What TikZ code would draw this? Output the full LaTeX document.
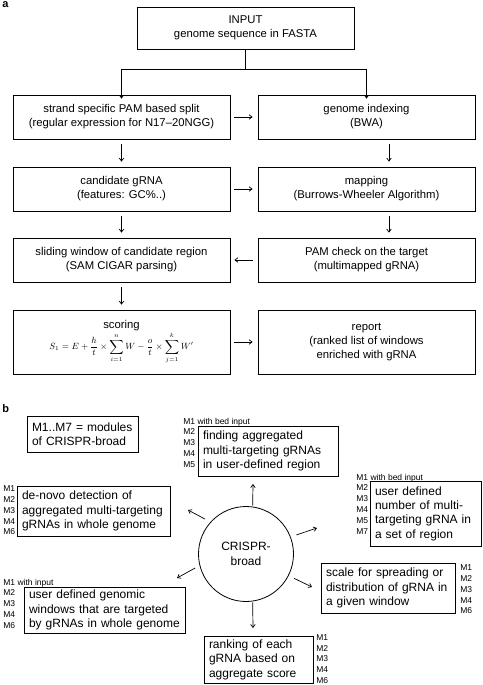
\documentclass[tikz,border=0pt]{standalone}
\usepackage{fontspec}
\setmainfont{Liberation Sans}
\usetikzlibrary{arrows.meta}
\begin{document}
\begin{tikzpicture}[x=1pt,y=-1pt,
  line width=0.8pt,
  abox/.style={draw, rectangle, inner sep=2pt, align=center,
     font=\fontsize{11.3}{14}\selectfont},
  bbox/.style={draw, rectangle, inner xsep=5pt, inner ysep=2pt, align=left,
     font=\fontsize{12}{14.4}\selectfont},
  mlab/.style={inner sep=0pt, align=left, font=\fontsize{8.5}{10.8}\selectfont},
  arr/.style={-{Straight Barb[length=3pt,width=4.5pt]}, line width=0.7pt},
  panel/.style={font=\bfseries\fontsize{11}{12}\selectfont, inner sep=0pt}
]
\useasboundingbox (0,0) rectangle (482,685);

% ---------------- panel a ----------------
\node[panel, anchor=north west] (pa) at (2,1) {a};

\node[abox, minimum width=217, minimum height=42] (in) at (245.5,28) {INPUT\\genome sequence in FASTA};

\node[abox, minimum width=217, minimum height=44] (l1) at (121.5,117) {strand specific PAM based split\\(regular expression for N17--20NGG)};
\node[abox, minimum width=217, minimum height=44] (r1) at (366.5,117) {genome indexing\\(BWA)};
\node[abox, minimum width=217, minimum height=44] (l2) at (121.5,189) {candidate gRNA\\(features: GC\%..)};
\node[abox, minimum width=217, minimum height=44] (r2) at (366.5,189) {mapping\\(Burrows-Wheeler Algorithm)};
\node[abox, minimum width=217, minimum height=44] (l3) at (121.5,260) {sliding window of candidate region\\(SAM CIGAR parsing)};
\node[abox, minimum width=217, minimum height=44] (r3) at (366.5,260) {PAM check on the target\\(multimapped gRNA)};
\node[abox, minimum width=217, minimum height=64] (l4) at (121.5,342) {scoring\\[0pt]
  {\fontsize{8.8}{9}\selectfont$\displaystyle S_1=E+\frac{h}{t}\times\sum_{i=1}^{n}W-\frac{o}{t}\times\sum_{j=1}^{k}W'$}};
\node[abox, minimum width=217, minimum height=64] (r4) at (366.5,342) {report\\(ranked list of windows\\enriched with gRNA};

\coordinate (split) at (245.5,69);
\draw (in.south) -- (split);
\draw[arr] (split) -| ([yshift=-4pt]l1.north);
\draw[arr] (split) -| ([yshift=-4pt]r1.north);

\draw[arr, shorten <=4pt, shorten >=5pt] (l1.east) -- (r1.west);
\draw[arr, shorten <=4pt, shorten >=5pt] (l2.east) -- (r2.west);
\draw[arr, shorten <=5pt, shorten >=4pt] (r3.west) -- (l3.east);
\draw[arr, shorten <=4pt, shorten >=5pt] (l4.east) -- (r4.west);

\draw[arr, shorten <=5pt, shorten >=5pt] (l1.south) -- (l2.north);
\draw[arr, shorten <=5pt, shorten >=5pt] (l2.south) -- (l3.north);
\draw[arr, shorten <=5pt, shorten >=5pt] (l3.south) -- (l4.north);
\draw[arr, shorten <=5pt, shorten >=5pt] ([xshift=22.5pt]r1.south) -- ([xshift=22.5pt]r2.north);
\draw[arr, shorten <=5pt, shorten >=5pt] ([xshift=22.5pt]r2.south) -- ([xshift=22.5pt]r3.north);

% ---------------- panel b ----------------
\node[panel, anchor=north west] (pb) at (2,404) {b};

\node[bbox, minimum width=111, minimum height=36, text width=101] (leg) at (82.5,434) {M1..M7 = modules\\of CRISPR-broad};

\node[draw, circle, minimum size=95, inner sep=0pt, align=center,
  font=\fontsize{12}{14.4}\selectfont] (core) at (246,554) {CRISPR-\\broad};

\node[bbox, minimum width=140, minimum height=50, text width=130] (top) at (268,451)
  {finding aggregated\\multi-targeting gRNAs\\in user-defined region};
\node[bbox, minimum width=111, minimum height=65, text width=101] (rt) at (425.5,513.5)
  {user defined\\number of multi-\\targeting gRNA in\\a set of region};
\node[bbox, minimum width=153, minimum height=50, text width=143] (lt) at (93.5,511)
  {de-novo detection of\\aggregated multi-targeting\\gRNAs in whole genome};
\node[bbox, minimum width=161, minimum height=46, text width=151] (lb) at (104.5,610)
  {user defined genomic\\windows that are targeted\\by gRNAs in whole genome};
\node[bbox, minimum width=134, minimum height=50, text width=124] (rb) at (388,588)
  {scale for spreading or\\distribution of gRNA in\\a given window};
\node[bbox, minimum width=109, minimum height=47, text width=99] (bt) at (258.5,659.5)
  {ranking of each\\gRNA based on\\aggregate score};

% module labels
\node[mlab, anchor=north west] (mtop) at (183,417.5) {M1 with bed input\\M2\\M3\\M4\\M5};
\node[mlab, anchor=north west] (mrt) at (356,473.5) {M1 with bed input\\M2\\M3\\M4\\M5\\M7};
\node[mlab, anchor=north west] (mlt) at (3,485.5) {M1\\M2\\M3\\M4\\M6};
\node[mlab, anchor=north west] (mlb) at (3,578.5) {M1 with input\\M2\\M3\\M4\\M6};
\node[mlab, anchor=north west] (mrb) at (460,564.5) {M1\\M2\\M3\\M4\\M6};
\node[mlab, anchor=north west] (mbt) at (316,634) {M1\\M2\\M3\\M4\\M6};

% arrows from the core
\coordinate (tUp) at (253,484);
\coordinate (tUL) at (188,510);
\coordinate (tUR) at (317,528);
\coordinate (tLL) at (177,578);
\coordinate (tLR) at (312,587);
\coordinate (tDn) at (253,628);
\draw[arr, shorten <=1pt] (core.82) -- (tUp);
\draw[arr, shorten <=6pt] (core.138.7) -- (tUL);
\draw[arr, shorten <=6pt] (core.21.4) -- (tUR);
\draw[arr, shorten <=5pt] (core.194.3) -- (tLL);
\draw[arr, shorten <=6pt] (core.333.4) -- (tLR);
\draw[arr, shorten <=1pt] (core.278) -- (tDn);
\end{tikzpicture}
\end{document}
